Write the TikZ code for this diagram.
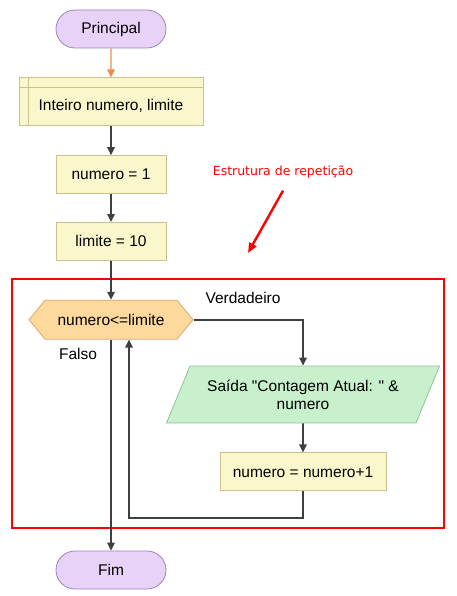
\documentclass[tikz,border=0pt]{standalone}
\usepackage{fontspec}
\setmainfont[Ligatures=TeXOff]{Liberation Sans}
\newfontfamily\notefont{DejaVu Sans}
\usetikzlibrary{shapes.geometric, shapes.misc, shapes.symbols, calc, arrows.meta, positioning}
\definecolor{startfill}{HTML}{E9D2F7}
\definecolor{startline}{HTML}{9C86B5}
\definecolor{procfill}{HTML}{FAF7CD}
\definecolor{procline}{HTML}{C9C28C}
\definecolor{decfill}{HTML}{FDD99D}
\definecolor{decline}{HTML}{D9A86C}
\definecolor{iofill}{HTML}{C8F0CC}
\definecolor{ioline}{HTML}{8DC497}
\definecolor{flowline}{HTML}{404040}
\definecolor{startarrow}{HTML}{F28A4E}

\begin{document}
\begin{tikzpicture}[x=1pt, y=1pt, node distance=29pt, >={Triangle[length=8pt,width=7.5pt]}, font=\fontsize{15.5}{18}\selectfont]
  % Define styles
  \tikzstyle{startstop} = [rounded rectangle, minimum width=110pt, minimum height=38pt, inner sep=0pt, text centered, draw=startline, fill=startfill, line width=0.8pt]
  \tikzstyle{decl} = [rectangle, minimum width=184pt, minimum height=48pt, inner sep=0pt, text height=19pt, text centered, draw=procline, fill=procfill, line width=0.8pt]
  \tikzstyle{process} = [rectangle, minimum width=110pt, minimum height=38pt, inner sep=0pt, text centered, draw=procline, fill=procfill, line width=0.8pt]
  \tikzstyle{decision} = [signal, signal to=west and east, signal pointer angle=101, minimum width=164pt, minimum height=39pt, inner sep=0pt, text centered, draw=decline, fill=decfill, line width=0.8pt]
  \tikzstyle{io} = [trapezium, trapezium stretches=true, trapezium left angle=56, trapezium right angle=124, minimum width=274pt, minimum height=57pt, inner sep=0pt, align=center, draw=ioline, fill=iofill, line width=0.8pt]
  \tikzstyle{arrow} = [draw=flowline, line width=1.6pt, ->]
  \tikzstyle{loopframe} = [rectangle, draw=red, line width=2.2pt, minimum width=432pt, minimum height=249pt]
  \tikzstyle{note} = [text=red, font=\notefont\fontsize{12.5}{14}\selectfont]
  \tikzstyle{notearrow} = [draw=red, line width=2.4pt, -{Triangle[length=10pt,width=8pt]}]

  \useasboundingbox (0,0) rectangle (457,-596);

  % Place nodes
  \node [loopframe] (loop) at (228,-403.5) {};
  \node [startstop] (principal) at (111,-29) {Principal};
  \node [decl, below=29pt of principal] (declare) {Inteiro numero, limite};
  \node [process, below=29pt of declare] (setnum) {numero = 1};
  \node [process, below=28pt of setnum] (setlim) {limite = 10};
  \node [decision, below=39pt of setlim] (test) {numero<=limite};
  \node [io] (output) at (303,-394.5) {Saída "Contagem Atual: " \&\\numero};
  \node [process, minimum width=166pt, below=29pt of output] (incr) {numero = numero+1};
  \node [startstop, below=211pt of test] (fim) {Fim};
  \node (truelabel) at (243,-298) {Verdadeiro};
  \node (falselabel) at (78,-354) {Falso};
  \node [note] (repnote) at (283,-172) {Estrutura de repetição};
  \coordinate (notetip) at (248,-253);
  \coordinate (loopback) at (129,-518);

  % Header lines of the declaration box
  \draw [procline, line width=0.8pt] ([yshift=-10pt]declare.north west) -- ([yshift=-10pt]declare.north east);
  \draw [procline, line width=0.8pt] ([xshift=10pt]declare.north west) -- ([xshift=10pt]declare.south west);

  % Draw edges
  \draw [arrow, draw=startarrow, line width=1.3pt] (principal) -- (declare);
  \draw [arrow] (declare) -- (setnum);
  \draw [arrow] (setnum) -- (setlim);
  \draw [arrow] (setlim) -- (test);
  \draw [arrow] (test.east) -| (output.north);
  \draw [arrow] (output) -- (incr);
  \draw [arrow] (incr.south) |- (loopback) -- (loopback |- test.south);
  \draw [arrow] (test.south) -- (fim.north);
  \draw [notearrow] ([yshift=-9pt]repnote.south) -- (notetip);

\end{tikzpicture}
\end{document}
